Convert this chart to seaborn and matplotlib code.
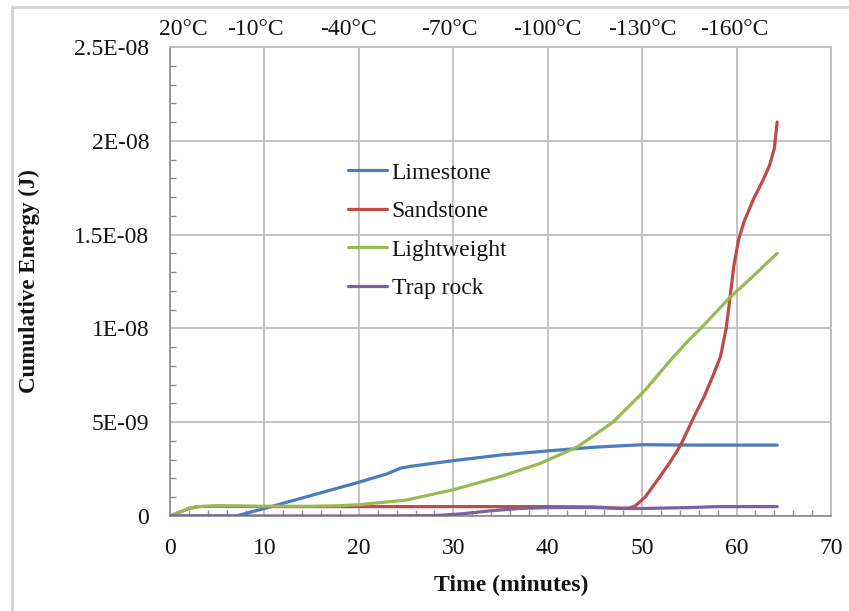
import matplotlib
matplotlib.use("Agg")
import matplotlib.pyplot as plt
import matplotlib.ticker as mticker
from matplotlib.lines import Line2D
import seaborn as sns
import pandas as pd

# ---------------- data (energy in units of 1e-9 J) ----------------
limestone_t = [0, 7.0, 10, 15, 20, 23, 24.4, 25.5, 30, 35, 40, 45, 50, 55, 64.3]
limestone_e = [0, 0.0, 0.4, 1.1, 1.8, 2.25, 2.55, 2.65, 2.95, 3.25, 3.47, 3.67, 3.8, 3.78, 3.78]

sandstone_t = [0, 1, 2, 3, 5, 10, 20, 30, 40, 45, 47.5, 48.6, 49.3, 50.3, 51.6, 53, 54.1, 55.5,
               56.6, 57.6, 58.3, 58.9, 59.3, 59.7, 60.2, 60.8, 61.8, 62.8, 63.5, 64.0, 64.3]
sandstone_e = [0, 0.2, 0.4, 0.5, 0.52, 0.5, 0.5, 0.5, 0.5, 0.48, 0.42, 0.42, 0.55, 1.0, 1.9, 2.9,
               3.8, 5.3, 6.4, 7.6, 8.5, 10.0, 11.6, 13.3, 14.7, 15.7, 16.9, 17.9, 18.7, 19.6, 21.0]

lightweight_t = [0, 1, 2, 3, 5, 10, 15, 18, 20, 25, 30, 35, 39.2, 43.2, 46.9, 50.3, 53,
                 54.8, 56.2, 59.2, 62, 64.3]
lightweight_e = [0, 0.2, 0.42, 0.5, 0.55, 0.52, 0.52, 0.55, 0.6, 0.85, 1.4, 2.1, 2.8, 3.7,
                 5.0, 6.7, 8.3, 9.3, 10.0, 11.6, 12.9, 14.0]

traprock_t = [0, 10, 20, 28, 31, 34, 37, 40, 45, 48, 50, 55, 58, 64.3]
traprock_e = [0, 0, 0, 0.02, 0.12, 0.28, 0.4, 0.45, 0.45, 0.4, 0.4, 0.45, 0.5, 0.5]

series_names = ["Limestone", "Sandstone", "Lightweight", "Trap rock"]
series_colors = ["#4A7EBB", "#BE4B48", "#98B954", "#7D60A0"]

xtick_values = [0, 10, 20, 30, 40, 50, 60, 70]
ytick_values = [0, 5e-9, 1e-8, 1.5e-8, 2e-8, 2.5e-8]
ytick_labels = ["0", "5E-09", "1E-08", "1.5E-08", "2E-08", "2.5E-08"]

temp_labels = ["20°C", "-10°C", "-40°C", "-70°C", "-100°C", "-130°C", "-160°C"]
temp_positions = [1.4, 9.1, 18.9, 29.6, 40.0, 50.0, 59.8]

x_label = "Time (minutes)"
y_label = "Cumulative Energy (J)"

# ---------------- build long table ----------------
frames = []
for name, t, e in zip(series_names,
                      [limestone_t, sandstone_t, lightweight_t, traprock_t],
                      [limestone_e, sandstone_e, lightweight_e, traprock_e]):
    frames.append(pd.DataFrame({"time": t, "energy": [v * 1e-9 for v in e], "material": name}))
df = pd.concat(frames, ignore_index=True)

# ---------------- plot ----------------
sns.set_theme(style="white")
plt.rcParams["font.family"] = ["Liberation Serif", "DejaVu Serif"]

fig = plt.figure(figsize=(8.49, 6.11), dpi=100)
ax = fig.add_axes([170 / 849, 1 - 516 / 611, 661 / 849, 469 / 611])

grid_color = "#bdbdbd"
axis_color = "#8a8a8a"
text_color = "#141414"

ax.set_xlim(0, 70)
ax.set_ylim(0, 2.5e-8)
ax.set_xticks(xtick_values)
ax.set_yticks(ytick_values)
ax.yaxis.set_major_formatter(mticker.FixedFormatter(ytick_labels))
ax.xaxis.set_minor_locator(mticker.MultipleLocator(2))
ax.yaxis.set_minor_locator(mticker.MultipleLocator(1e-9))
ax.grid(True, which="major", color=grid_color, linewidth=1.3, zorder=0)
ax.set_axisbelow(True)

palette = dict(zip(series_names, series_colors))
sns.lineplot(data=df, x="time", y="energy", hue="material", hue_order=series_names,
             palette=palette, estimator=None, sort=True, linewidth=2.3, ax=ax,
             legend=False, zorder=3)

for spine in ["left", "bottom"]:
    ax.spines[spine].set_color(axis_color)
    ax.spines[spine].set_linewidth(1.2)
for spine in ["top", "right"]:
    ax.spines[spine].set_color(grid_color)
    ax.spines[spine].set_linewidth(1.3)

ax.tick_params(axis="both", which="major", direction="out", length=4, width=1,
               color=axis_color, labelsize=17, labelcolor=text_color)
ax.tick_params(axis="x", which="major", pad=12)
ax.tick_params(axis="y", which="major", pad=11)
ax.tick_params(axis="both", which="minor", direction="in", length=4, width=1,
               color=axis_color, bottom=True, left=True)

ax.set_xlabel(x_label, fontsize=17, fontweight="bold", color=text_color)
ax.set_ylabel(y_label, fontsize=16.5, fontweight="bold", color=text_color)
ax.xaxis.set_label_coords(0.516, -0.125)
ax.yaxis.set_label_coords(-0.197, 0.5)

# temperature labels along the top
for lab, pos in zip(temp_labels, temp_positions):
    ax.annotate(lab, xy=(pos, 1.0), xycoords=("data", "axes fraction"),
                xytext=(0, 5), textcoords="offset points",
                ha="center", va="bottom", fontsize=17, color=text_color)

# legend
handles = [Line2D([0], [0], color=c, lw=2.3) for c in series_colors]
ax.legend(handles, series_names, loc="upper left", bbox_to_anchor=(0.237, 0.80),
          frameon=False, fontsize=17, handlelength=1.65, handletextpad=0.2,
          labelspacing=0.72, labelcolor=text_color)

# light outer frame
fig.add_artist(Line2D([12 / 849, 12 / 849], [0, 1 - 7 / 611], transform=fig.transFigure,
                      color="#d2d2d2", lw=2))
fig.add_artist(Line2D([12 / 849, 1], [1 - 7 / 611, 1 - 7 / 611], transform=fig.transFigure,
                      color="#d2d2d2", lw=2))

fig.savefig("out.png", dpi=100)
